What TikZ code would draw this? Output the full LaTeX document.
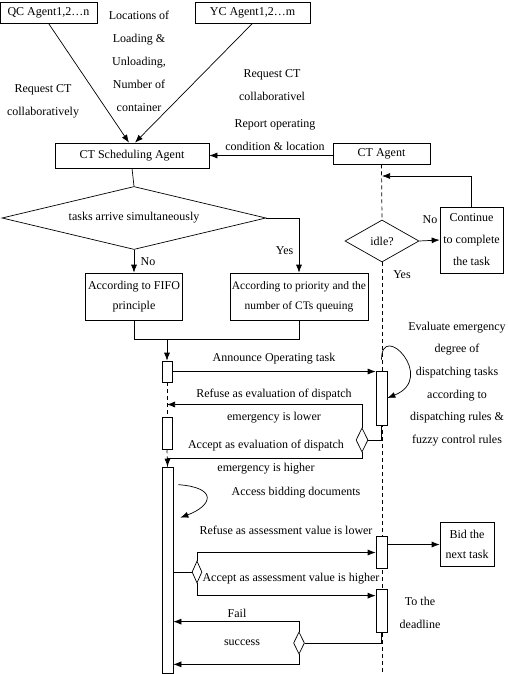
\documentclass[tikz,border=0pt]{standalone}
\usepackage{fontspec}
\setmainfont{Liberation Serif}
\usetikzlibrary{arrows.meta,positioning,calc,shapes.geometric}

\begin{document}
\begin{tikzpicture}[x=1pt,y=-1pt,line width=0.7pt,
    font=\fontsize{12}{23}\selectfont,
    box/.style={draw,rectangle,inner sep=1pt,align=center,font=\fontsize{12}{20}\selectfont},
    act/.style={draw,fill=white,minimum width=10pt,inner sep=0pt},
    choice/.style={draw,diamond,inner sep=0pt},
    arr/.style={-{Latex[length=8pt,width=6pt]}},
    life/.style={dash pattern=on 4pt off 3pt},
    lbl/.style={align=center,inner sep=0pt}]
    \useasboundingbox (0,0) rectangle (508,674);

    % agents on top
    \node[box,minimum width=97pt,minimum height=21pt] (qc) at (48.5,12.5) {QC Agent1,2…n};
    \node[box,minimum width=115pt,minimum height=21pt] (yc) at (252.5,12.5) {YC Agent1,2…m};
    \node[box,minimum width=154pt,minimum height=25pt] (sched) at (132,155.5) {CT Scheduling Agent};
    \node[box,minimum width=97pt,minimum height=21pt] (ctag) at (381.5,153.5) {CT Agent};
    \node[lbl] (locs) at (139,61.5) {Locations of\\Loading \&\\Unloading,\\Number of\\container};
    \node[lbl] (reqqc) at (43,101.5) {Request CT\\collaboratively};
    \node[lbl] (reqyc) at (272,85.5) {Request CT\\collaborativel};
    \node[lbl] (report) at (275,135) {Report operating\\condition \& location};
    \draw[arr] (qc.south) -- ([xshift=-3pt]sched.north);
    \draw[arr] (yc.south) -- ([xshift=3pt]sched.north);
    \draw[arr] (ctag.west |- sched.east) -- (sched.east);

    % scheduling rule
    \node[choice,shape aspect=4,minimum width=264pt,minimum height=63pt] (tasks) at (134,218) {tasks arrive simultaneously};
    \node[box,minimum width=97pt,minimum height=47pt] (fifo) at (134,296.5) {According to FIFO\\principle};
    \node[box,minimum width=138pt,minimum height=47pt,font=\fontsize{11.5}{20}\selectfont] (prio) at (299,296.5) {According to priority and the\\number of CTs queuing};
    \draw (sched.south) -- (tasks.north);
    \draw[arr] (tasks.south) -- node[right=3pt] (no1) {No} (fifo.north);
    \draw[arr] (tasks.east) -| node[pos=0.8,left=2pt] (yes1) {Yes} (prio.north);
    \draw (fifo.south) -- ++(0,19) coordinate (join) -| (prio.south);

    % CT agent
    \node[choice,minimum width=74pt,minimum height=42pt] (idle) at (382,241) {idle?};
    \node[box,minimum width=63pt,minimum height=66pt,font=\fontsize{12}{22}\selectfont] (cont) at (471.5,240) {Continue\\to complete\\the task};
    \coordinate (back) at (382,176);
    \coordinate (ctend) at (382,674);
    \draw[life] (ctag.south) -- (idle.north);
    \draw[life] (idle.south) -- (ctend);
    \draw[arr] (idle.east) -- (cont.west);
    \draw[arr] (cont.north) |- (back);
    \node[lbl] (no2) at (430,220) {No};
    \node[lbl] (yes2) at (402,275) {Yes};
    \node[lbl,font=\fontsize{12}{22.6}\selectfont] (evalnote) at (457,384) {Evaluate emergency\\degree of\\dispatching tasks\\according to\\dispatching rules \&\\fuzzy control rules};

    % activation bars
    \node[act,minimum height=21pt] (a1) at (167,371.5) {};
    \node[act,minimum height=32pt] (a2) at (167,433) {};
    \node[act,minimum width=11pt,minimum height=206pt] (a3) at (167.5,570) {};
    \node[act,minimum width=11pt,minimum height=54pt] (b1) at (381.5,398) {};
    \node[act,minimum width=11pt,minimum height=32pt] (b2) at (381.5,552.5) {};
    \node[act,minimum width=11pt,minimum height=43pt] (b3) at (381.5,610.5) {};
    \draw[life] (a1.south) -- (a2.north);
    \draw[life] (a2.south) -- (a3.north);
    \draw[arr] (join -| a1.north) -- (a1.north);

    % announce and evaluate
    \draw[arr] (a1.east) -- node[above=4pt] (ann) {Announce Operating task} (a1.east -| b1.west);
    \draw[arr] ([yshift=11pt]b1.north) .. controls +(0,-40) and +(50,-20) .. (b1.east);
    \node[choice,minimum width=12pt,minimum height=24pt] (d1) at (362,440) {};
    \draw (b1.south) |- (d1.east);
    \draw[arr] (d1.north) |- ($(a1.south)!.5!(a2.north)+(0,5)$);
    \draw[arr] (d1.south) |- ($(a3.north)+(0,-8)$) -- (a3.north);
    \node[lbl] (refuse1) at (274,406.5) {Refuse as evaluation of dispatch\\emergency is lower};
    \node[lbl] (accept1) at (266,457) {Accept as evaluation of dispatch\\emergency is higher};

    % bidding
    \draw[arr] ([xshift=5pt,yshift=-18pt]a3.north east) .. controls +(40,3) and +(32,-12) .. ([xshift=7pt,yshift=-51pt]a3.north east);
    \node[lbl] (access) at (296,493) {Access bidding documents};
    \node[choice,minimum width=10pt,minimum height=22pt] (d2) at (197,572) {};
    \draw (a3.east |- d2.west) -- (d2.west);
    \draw[arr] (d2.north) |- (b2.west);
    \draw[arr] (d2.south) |- ($(b3.north west)+(0,7)$);
    \node[lbl] (refuse2) at (286,530) {Refuse as assessment value is lower};
    \node[lbl] (accept2) at (291,579) {Accept as assessment value is higher};
    \node[box,minimum width=54pt,minimum height=44pt] (bid) at (467,544.5) {Bid the\\next task};
    \draw[arr] (bid.west -| b2.east) -- (bid.west);
    \node[lbl] (deadline) at (420,613) {To the\\deadline};

    % result
    \node[choice,minimum width=11pt,minimum height=22pt] (d3) at (299,643) {};
    \draw (b3.south) |- (d3.east);
    \draw[arr] (d3.north) |- ($(d3.north -| a3.east)+(0,-10)$);
    \draw[arr] (d3.south) |- ($(d3.south -| a3.east)+(0,10)$);
    \node[lbl] (fail) at (237,613) {Fail};
    \node[lbl] (succ) at (242,643) {success};
\end{tikzpicture}
\end{document}
